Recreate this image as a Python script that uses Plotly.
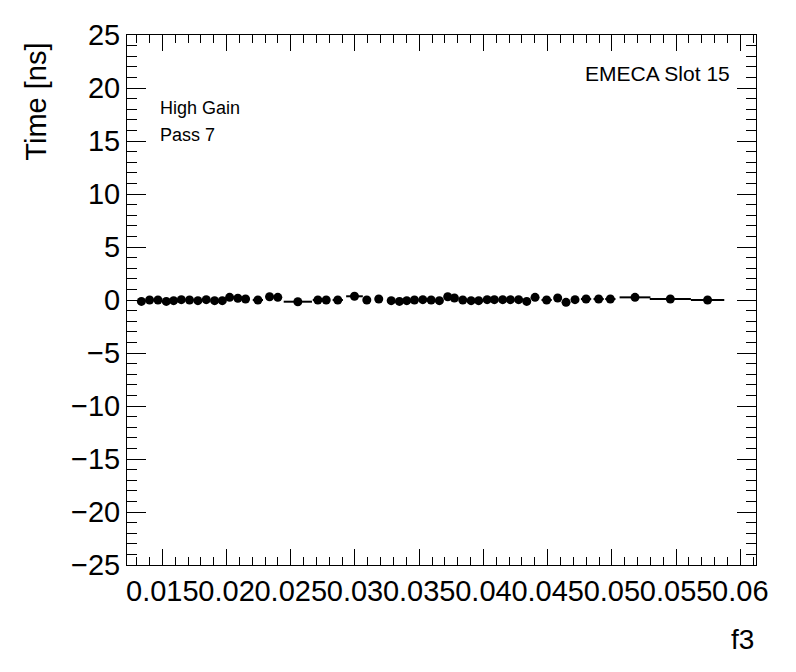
import plotly.graph_objects as go

f3 = [0.01337, 0.01401, 0.01466, 0.01531, 0.01588, 0.01648, 0.01712, 0.01777, 0.01842, 0.01907,
      0.01967, 0.02024, 0.02088, 0.02148, 0.02244, 0.02335, 0.02399, 0.02555, 0.02711, 0.02776,
      0.02866, 0.02996, 0.03092, 0.03185, 0.03282, 0.03346, 0.03403, 0.03463, 0.03528, 0.03593,
      0.03657, 0.03722, 0.03774, 0.03839, 0.03904, 0.03963, 0.04029, 0.04085, 0.04150, 0.04210,
      0.04274, 0.04337, 0.04402, 0.04492, 0.04578, 0.04643, 0.04713, 0.04799, 0.04897, 0.04988,
      0.05180, 0.05455, 0.05745]
time_ns = [-0.13, 0.0, 0.0, -0.13, -0.06, 0.03, 0.0, -0.06, 0.03, -0.06,
           -0.06, 0.25, 0.16, 0.09, 0.0, 0.31, 0.25, -0.16, 0.0, 0.0,
           0.0, 0.35, 0.0, 0.09, -0.06, -0.13, -0.06, 0.0, 0.03, 0.0,
           -0.06, 0.31, 0.19, 0.0, -0.06, -0.06, 0.03, 0.03, 0.03, 0.03,
           0.03, -0.13, 0.25, 0.0, 0.19, -0.22, 0.03, 0.09, 0.09, 0.09,
           0.25, 0.09, 0.0]
f3_halfwidth = [0.0003, 0.0003, 0.0003, 0.0003, 0.0003, 0.0003, 0.0003, 0.0003, 0.0003, 0.0003,
                0.0003, 0.0003, 0.0003, 0.0003, 0.0004, 0.0003, 0.0003, 0.0011, 0.0004, 0.0003,
                0.0004, 0.00065, 0.0003, 0.0003, 0.0003, 0.0003, 0.0003, 0.0003, 0.0003, 0.0003,
                0.0003, 0.0003, 0.0003, 0.0003, 0.0003, 0.0003, 0.0003, 0.0003, 0.0003, 0.0003,
                0.0003, 0.0003, 0.0003, 0.0004, 0.0003, 0.0003, 0.0003, 0.0004, 0.0004, 0.0004,
                0.0012, 0.0016, 0.0013]

x_tickvals = [0.015, 0.02, 0.025, 0.03, 0.035, 0.04, 0.045, 0.05, 0.055, 0.06]
x_ticklabels = ["0.015", "0.02", "0.025", "0.03", "0.035", "0.04", "0.045", "0.05", "0.055", "0.06"]
y_tickvals = [-25, -20, -15, -10, -5, 0, 5, 10, 15, 20, 25]

FONT = "Liberation Sans, Arial, sans-serif"

fig = go.Figure()
fig.add_trace(go.Scatter(
    x=f3, y=time_ns, mode="markers",
    marker=dict(symbol="circle", size=9, color="black"),
    error_x=dict(type="data", array=f3_halfwidth, color="black", thickness=2, width=0),
    showlegend=False,
))

axis_common = dict(
    showline=True, linecolor="black", linewidth=1, mirror="allticks",
    ticks="inside", tickcolor="black", tickwidth=1,
    showgrid=False, zeroline=False, automargin=False,
    tickfont=dict(family=FONT, size=29, color="black"),
)

fig.update_xaxes(
    range=[0.01225, 0.06122],
    tickvals=x_tickvals, ticktext=x_ticklabels, ticklen=16, tickangle=0,
    minor=dict(dtick=0.001, tick0=0, ticklen=8, ticks="inside", tickcolor="black", showgrid=False),
    **axis_common,
)
fig.update_yaxes(
    range=[-25, 25],
    tickvals=y_tickvals, ticklen=19,
    minor=dict(dtick=1, tick0=0, ticklen=10, ticks="inside", tickcolor="black", showgrid=False),
    **axis_common,
)

fig.update_layout(
    width=788, height=664,
    margin=dict(l=119, r=40, t=27, b=107),
    paper_bgcolor="white", plot_bgcolor="white",
    font=dict(family=FONT, color="black"),
    annotations=[
        dict(text="Time [ns]", xref="paper", yref="paper", x=-0.145, y=0.989,
             xanchor="center", yanchor="top", textangle=-90, showarrow=False,
             font=dict(size=29, family=FONT)),
        dict(text="f3", xref="paper", yref="paper", x=1.0, y=-0.1415,
             xanchor="right", yanchor="middle", showarrow=False,
             font=dict(size=28, family=FONT)),
        dict(text="High Gain", xref="paper", yref="paper", x=0.050, y=0.863,
             xanchor="left", yanchor="middle", showarrow=False,
             font=dict(size=18, family=FONT)),
        dict(text="Pass 7", xref="paper", yref="paper", x=0.050, y=0.811,
             xanchor="left", yanchor="middle", showarrow=False,
             font=dict(size=18, family=FONT)),
        dict(text="EMECA Slot 15", xref="paper", yref="paper", x=0.962, y=0.928,
             xanchor="right", yanchor="middle", showarrow=False,
             font=dict(size=21, family=FONT)),
    ],
)

fig.write_html("out.html")
